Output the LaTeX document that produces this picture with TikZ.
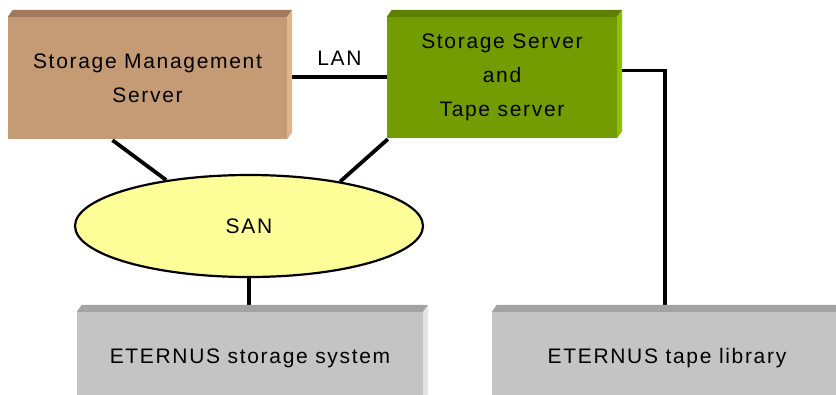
\documentclass[tikz,border=0pt]{standalone}
\usepackage{fontspec}
\setmainfont{Liberation Sans}[LetterSpace=8]
\usetikzlibrary{shapes.geometric,calc}
\definecolor{smsfront}{HTML}{C49B75}
\definecolor{smstop}{HTML}{A07A5A}
\definecolor{smsright}{HTML}{E0B48C}
\definecolor{grnfront}{HTML}{739C00}
\definecolor{grntop}{HTML}{5E8000}
\definecolor{grnright}{HTML}{8CBF00}
\definecolor{gryfront}{HTML}{C4C4C4}
\definecolor{grytop}{HTML}{A3A3A3}
\definecolor{gryright}{HTML}{E3E3E3}
\definecolor{sanfill}{HTML}{FFFF99}
\newcommand\bevelfaces[3]{%
  \fill[#2] (#1.north west) -- ++(5pt,7pt) -- ([shift={(5pt,7pt)}]#1.north east) -- (#1.north east) -- cycle;
  \fill[#3] (#1.north east) -- ++(5pt,7pt) -- ([shift={(5pt,7pt)}]#1.south east) -- (#1.south east) -- cycle;}
\begin{document}
\begin{tikzpicture}[x=1pt,y=-1pt,
  face/.style={rectangle, inner sep=0pt, align=center, font=\fontsize{21}{34}\selectfont},
  link/.style={line width=3.2pt, black},
  thicklink/.style={line width=3.8pt, black},
  net/.style={ellipse, draw=black, line width=2.2pt, fill=sanfill, inner sep=0pt,
    minimum width=348pt, minimum height=102pt, font=\fontsize{21}{34}\selectfont}]
\useasboundingbox (0,0) rectangle (836,394);
\clip (0,0) rectangle (836,394);
\fill[white] (0,0) rectangle (836,394);
% front faces
\node[face, fill=smsfront, minimum width=279pt, minimum height=122pt] (sms) at (147.5,78) {Storage Management\\Server};
\node[face, fill=grnfront, minimum width=230pt, minimum height=121pt] (grn) at (502,77.5) {Storage Server\\and\\Tape server};
\node[face, fill=gryfront, minimum width=346pt, minimum height=92pt] (stor) at (250,358) {ETERNUS storage system};
\node[face, fill=gryfront, minimum width=350pt, minimum height=92pt] (tape) at (667,358) {ETERNUS tape library};
\node[net] (san) at (249,226) {SAN};
% connectors
\draw[thicklink] ($(sms.south)+(-35pt,-1pt)$) -- (san.151.8);
\draw[thicklink] ($(grn.south west)+(1pt,-1pt)$) -- (san.26);
\draw[thicklink] (san.south) -- (san.south |- stor.north);
\draw[link] ($(sms.east)+(5pt,1pt)$) -- node[midway, yshift=19pt, font=\fontsize{21}{34}\selectfont] (lan) {LAN} (grn.west |- 0,77);
\draw[link] ($(grn.east)+(5pt,7pt)$) -| ($(tape.north)+(-2pt,0)$);
% bevels
\bevelfaces{sms}{smstop}{smsright}
\bevelfaces{grn}{grntop}{grnright}
\bevelfaces{stor}{grytop}{gryright}
\bevelfaces{tape}{grytop}{gryright}
\end{tikzpicture}
\end{document}
